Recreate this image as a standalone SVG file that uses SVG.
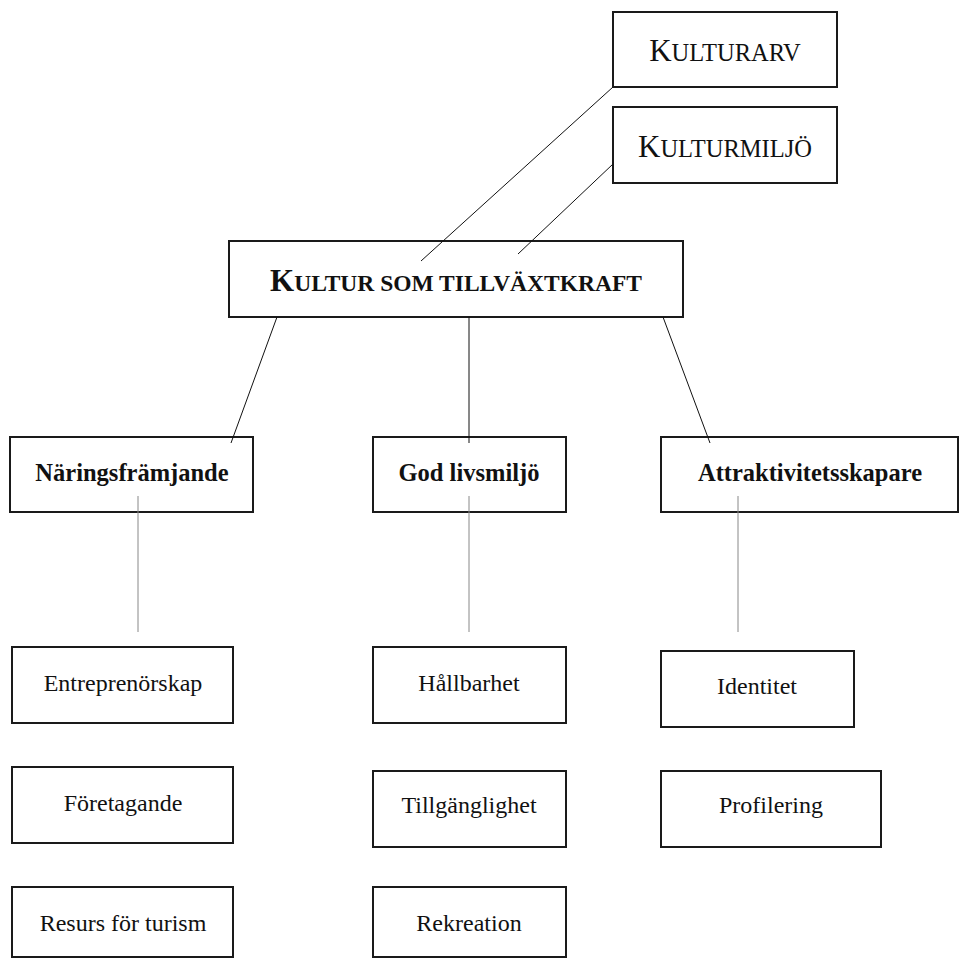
<svg xmlns="http://www.w3.org/2000/svg" width="962" height="959" viewBox="0 0 962 959">
<style>
.box{fill:#fff;stroke:#1a1a1a;stroke-width:2}
.t{font-family:"Liberation Serif","Times New Roman",serif;font-size:24px;fill:#111;text-anchor:middle}
.b{font-weight:bold;font-size:24.5px}
.sc{font-size:24.5px}
.big{font-size:31px}
.scb{font-size:23.5px}
.c{stroke:#111;stroke-width:1;fill:none}
.g{stroke:#888;stroke-width:1;fill:none}
</style>
<rect width="962" height="959" fill="#fff"/>
<g id="kulturarv">
<rect class="box" x="613" y="12" width="224" height="75"/>
<text class="t" x="725" y="61"><tspan class="big">K</tspan><tspan class="sc">ULTURARV</tspan></text>
</g>
<g id="kulturmiljo">
<rect class="box" x="613" y="107" width="224" height="76"/>
<text class="t" x="725" y="157"><tspan class="big">K</tspan><tspan class="sc">ULTURMILJÖ</tspan></text>
</g>
<g id="kultur-som-tillvaxtkraft">
<rect class="box" x="229" y="241" width="454" height="76"/>
<text class="t" x="456" y="291" font-weight="bold"><tspan class="big">K</tspan><tspan class="scb">ULTUR SOM TILLVÄXTKRAFT</tspan></text>
</g>
<g id="naringsframjande">
<rect class="box" x="10" y="437" width="243" height="75"/>
<text class="t b" x="132" y="481">Näringsfrämjande</text>
</g>
<g id="god-livsmiljo">
<rect class="box" x="373" y="437" width="193" height="75"/>
<text class="t b" x="469" y="481">God livsmiljö</text>
</g>
<g id="attraktivitetsskapare">
<rect class="box" x="661" y="437" width="297" height="75"/>
<text class="t b" x="810" y="481">Attraktivitetsskapare</text>
</g>
<g id="entreprenorskap">
<rect class="box" x="12" y="647" width="221" height="76"/>
<text class="t" x="123" y="691">Entreprenörskap</text>
</g>
<g id="foretagande">
<rect class="box" x="12" y="767" width="221" height="76"/>
<text class="t" x="123" y="811">Företagande</text>
</g>
<g id="resurs-for-turism">
<rect class="box" x="12" y="887" width="221" height="70"/>
<text class="t" x="123" y="931">Resurs för turism</text>
</g>
<g id="hallbarhet">
<rect class="box" x="373" y="647" width="193" height="76"/>
<text class="t" x="469" y="691">Hållbarhet</text>
</g>
<g id="tillganglighet">
<rect class="box" x="373" y="771" width="193" height="76"/>
<text class="t" x="469" y="813">Tillgänglighet</text>
</g>
<g id="rekreation">
<rect class="box" x="373" y="887" width="193" height="70"/>
<text class="t" x="469" y="931">Rekreation</text>
</g>
<g id="identitet">
<rect class="box" x="661" y="651" width="193" height="76"/>
<text class="t" x="757" y="694">Identitet</text>
</g>
<g id="profilering">
<rect class="box" x="661" y="771" width="220" height="76"/>
<text class="t" x="771" y="813">Profilering</text>
</g>
<g id="connectors">
<line class="c" x1="613" y1="87" x2="421" y2="261"/>
<line class="c" x1="613" y1="164" x2="518" y2="254"/>
<line class="c" x1="277" y1="317" x2="231" y2="443"/>
<line class="c" x1="469" y1="317" x2="469" y2="443"/>
<line class="c" x1="663" y1="317" x2="710" y2="443"/>
<line class="g" x1="138" y1="496" x2="138" y2="632"/>
<line class="g" x1="469" y1="496" x2="469" y2="632"/>
<line class="g" x1="738" y1="496" x2="738" y2="632"/>
</g>
</svg>
